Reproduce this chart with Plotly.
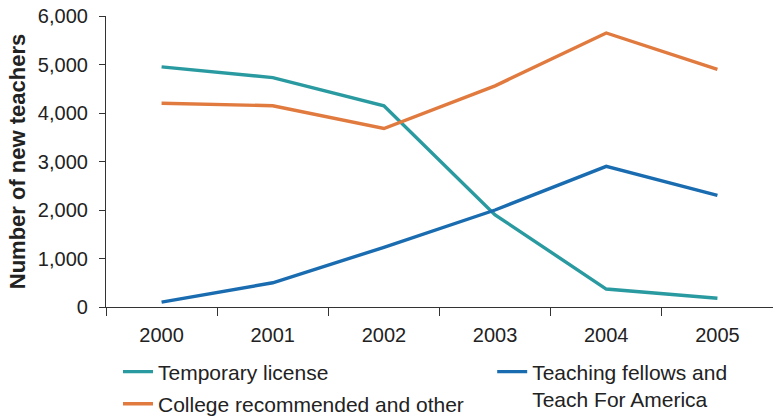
import plotly.graph_objects as go

years = ["2000", "2001", "2002", "2003", "2004", "2005"]
temporary = [4950, 4730, 4150, 1900, 370, 180]
college = [4200, 4150, 3680, 4560, 5650, 4900]
teaching = [100, 500, 1230, 2000, 2900, 2300]

# name, values, colour, which legend box
series = [
    ("Temporary license", temporary, "#2A9AA1", "legend"),
    ("College recommended and other", college, "#E17A3E", "legend3"),
    ("Teaching fellows and<br>Teach For America", teaching, "#1A6CB0", "legend2"),
]

fig = go.Figure()
for name, vals, color, leg in series:
    fig.add_trace(go.Scatter(
        x=years, y=vals, name=name, mode="lines",
        line=dict(color=color, width=3.4),
        legend=leg,
    ))

fig.update_xaxes(
    type="category",
    range=[-0.5, 5.5],
    tickson="boundaries",
    ticks="outside", ticklen=8, tickcolor="#333",
    ticklabelstandoff=10,
    showline=True, linecolor="#333", linewidth=1.2,
    showgrid=False, zeroline=False,
    tickfont=dict(size=20, color="#222"),
    automargin=False,
)
fig.update_yaxes(
    range=[0, 6000],
    tickvals=[0, 1000, 2000, 3000, 4000, 5000, 6000],
    tickformat=",",
    ticks="outside", ticklen=6, tickcolor="#333",
    ticklabelstandoff=7,
    ticklabeloverflow="allow",
    showline=True, linecolor="#333", linewidth=1.2,
    showgrid=False, zeroline=False,
    tickfont=dict(size=20, color="#222"),
    title=dict(text="<b>Number of new teachers</b>", font=dict(size=22, color="#222"), standoff=6),
    automargin=False,
)

legend_style = dict(
    orientation="v",
    yanchor="top",
    valign="top",
    font=dict(size=21, color="#222"),
    itemwidth=30,
    tracegroupgap=0,
    bgcolor="rgba(0,0,0,0)",
)

fig.update_layout(
    width=773, height=416,
    margin=dict(l=106, r=0, t=16, b=109, autoexpand=False),
    paper_bgcolor="white", plot_bgcolor="white",
    font=dict(family="Liberation Sans, Arial, sans-serif", color="#222"),
    showlegend=True,
    legend=dict(x=0.018, xanchor="left", y=-0.153, **legend_style),
    legend2=dict(x=0.579, xanchor="left", y=-0.153, **legend_style),
    legend3=dict(x=0.018, xanchor="left", y=-0.263, **legend_style),
)

# drop the default 8px body margin so the figure sits at the page corner
fig.write_html("out.html", config={"displayModeBar": False},
               post_script="document.body.style.margin='0';")
